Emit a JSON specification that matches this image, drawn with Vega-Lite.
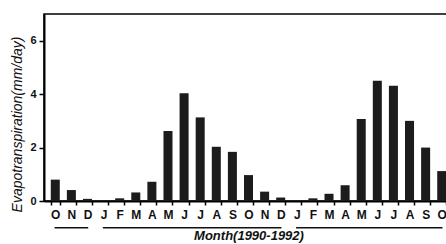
{
  "$schema": "https://vega.github.io/schema/vega-lite/v6.json",
  "autosize": {"type": "none"},
  "padding": {"left": 44, "top": 14, "right": 0, "bottom": 43},
  "width": 409,
  "height": 187,
  "background": "white",
  "config": {
    "view": {"stroke": "black", "strokeWidth": 1.5},
    "font": "Liberation Sans",
    "axisY": {"tickCount": 7, "tickMinStep": 1, "labelOverlap": false}
  },
  "data": {
    "values": [
      {"month": "1990-10", "yr": "1990", "et": 0.8},
      {"month": "1990-11", "yr": "1990", "et": 0.41},
      {"month": "1990-12", "yr": "1990", "et": 0.08},
      {"month": "1991-01", "yr": "1991", "et": 0.0},
      {"month": "1991-02", "yr": "1991", "et": 0.1},
      {"month": "1991-03", "yr": "1991", "et": 0.32},
      {"month": "1991-04", "yr": "1991", "et": 0.72},
      {"month": "1991-05", "yr": "1991", "et": 2.62},
      {"month": "1991-06", "yr": "1991", "et": 4.03},
      {"month": "1991-07", "yr": "1991", "et": 3.13},
      {"month": "1991-08", "yr": "1991", "et": 2.03},
      {"month": "1991-09", "yr": "1991", "et": 1.84},
      {"month": "1991-10", "yr": "1991", "et": 0.97},
      {"month": "1991-11", "yr": "1991", "et": 0.35},
      {"month": "1991-12", "yr": "1991", "et": 0.13},
      {"month": "1992-01", "yr": "1992", "et": 0.0},
      {"month": "1992-02", "yr": "1992", "et": 0.1},
      {"month": "1992-03", "yr": "1992", "et": 0.27},
      {"month": "1992-04", "yr": "1992", "et": 0.59},
      {"month": "1992-05", "yr": "1992", "et": 3.07},
      {"month": "1992-06", "yr": "1992", "et": 4.5},
      {"month": "1992-07", "yr": "1992", "et": 4.31},
      {"month": "1992-08", "yr": "1992", "et": 3.0},
      {"month": "1992-09", "yr": "1992", "et": 2.0},
      {"month": "1992-10", "yr": "1992", "et": 1.12}
    ]
  },
  "layer": [
    {
      "mark": {"type": "bar", "color": "#1c1c1c"},
      "encoding": {
        "x": {
          "field": "month",
          "type": "nominal",
          "scale": {"paddingInner": 0.44, "paddingOuter": 0.42},
          "axis": {
            "title": "Month(1990-1992)",
            "labelAngle": 0,
            "labelExpr": "isString(datum.value) ? ['J','F','M','A','M','J','J','A','S','O','N','D'][toNumber(slice(datum.value,5))-1] : ''",
            "tickBand": "extent",
            "domainColor": "black",
            "domainWidth": 2,
            "tickColor": "black",
            "tickWidth": 1.5,
            "tickSize": 4,
            "labelPadding": 4,
            "labelFontSize": 12,
            "labelFontWeight": "bold",
            "labelColor": "#111",
            "titleFontSize": 13,
            "titleFontWeight": "bold",
            "titleFontStyle": "italic",
            "titleColor": "#111",
            "titlePadding": 9
          }
        },
        "y": {
          "field": "et",
          "type": "quantitative",
          "scale": {"domain": [0, 7], "nice": false},
          "axis": {
            "title": "Evapotranspiration(mm/day)",
            "values": [0, 1, 2, 3, 4, 5, 6, 7],
            "tickCount": 7,
            "grid": false,
            "domainColor": "black",
            "domainWidth": 2,
            "tickColor": "black",
            "tickWidth": 1.5,
            "tickSize": 5,
            "labelPadding": 3,
            "labelFontSize": 11,
            "labelFontWeight": "bold",
            "labelColor": "#111",
            "titleFontSize": 14,
            "titleFontWeight": "normal",
            "titleFontStyle": "italic",
            "titleColor": "#111",
            "titleX": -20,
            "titleY": 110
          }
        }
      }
    },
    {
      "mark": {"type": "line", "color": "#111", "strokeWidth": 1.5, "clip": false, "strokeCap": "square"},
      "encoding": {
        "x": {"field": "month", "type": "nominal"},
        "y": {"datum": -1, "type": "quantitative"},
        "detail": {"field": "yr", "type": "nominal"}
      }
    }
  ]
}
